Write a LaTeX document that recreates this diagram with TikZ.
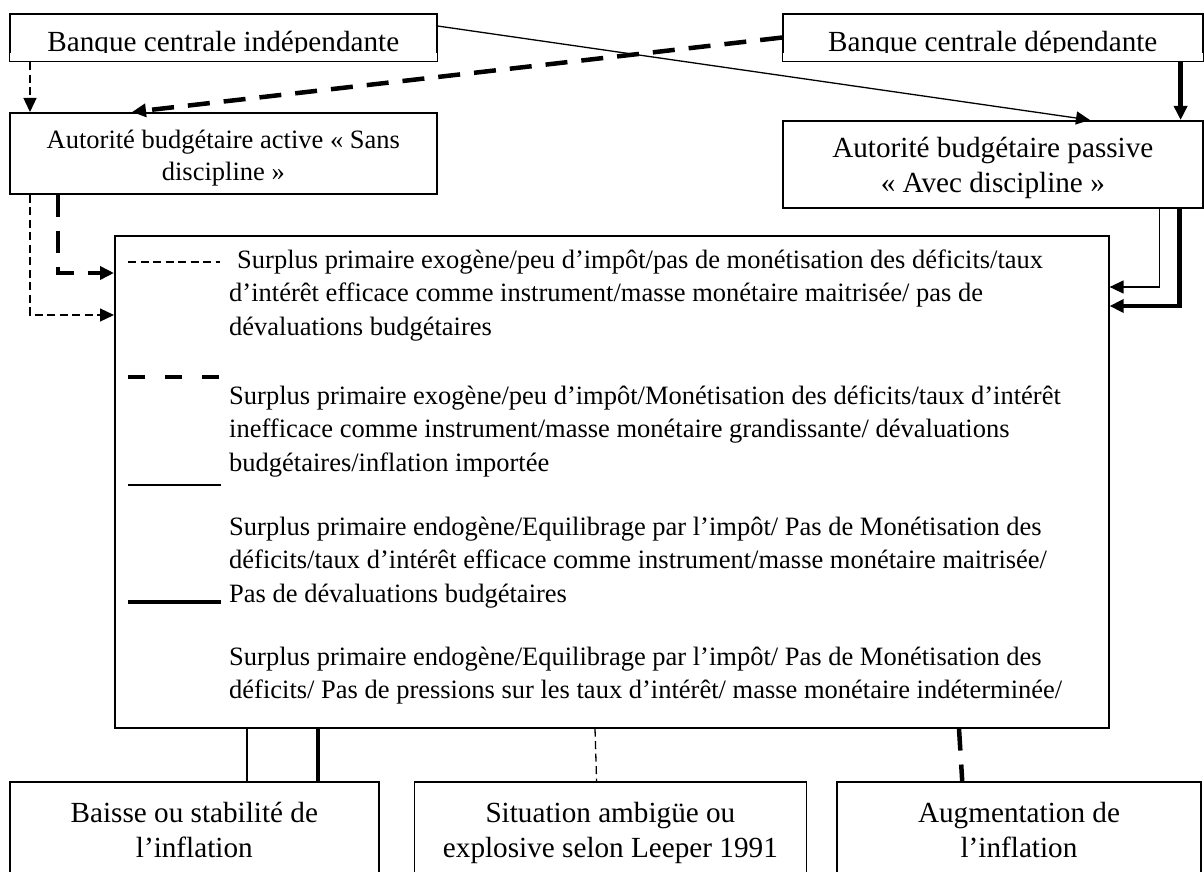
\documentclass[tikz,border=0pt]{standalone}
\usepackage{fontspec}
\setmainfont{Liberation Serif}
\usetikzlibrary{positioning, arrows.meta}

\begin{document}
\begin{tikzpicture}[x=1pt, y=-1pt,
                    every node/.style = {inner sep=0pt, text=black},
                    bloc/.style = {draw, line width=1.6pt, align=center, anchor=north west,
                                   font=\fontsize{29.2}{35}\selectfont},
                    para/.style = {anchor=base west, align=left,
                                   font=\fontsize{26.5}{33.5}\selectfont},
                    fil/.style = {line width=1.3pt},
                    gros/.style = {line width=4.5pt},
                    pointille/.style = {line width=1.3pt, dash pattern=on 8pt off 4.5pt},
                    tirets/.style = {line width=4.5pt, dash pattern=on 22pt off 14pt},
                    fleche/.style = {-{Triangle[length=14pt, width=13pt]}}]
    \useasboundingbox (0,0) rectangle (1204,872);
    \clip (0,0) rectangle (1204,872);
    \node (bci) [bloc, minimum width=427pt, text height=37.5pt, text depth=10pt] at (9,13) {Banque centrale indépendante};
    \node (bcd) [bloc, minimum width=420pt, text height=37.5pt, text depth=10pt] at (782,13) {Banque centrale dépendante};
    \fill[white] ([xshift=1pt, yshift=1pt]bci.south west) rectangle ([xshift=-1pt, yshift=9pt]bci.south east);
    \fill[white] ([xshift=1pt, yshift=1pt]bcd.south west) rectangle ([xshift=-1pt, yshift=9pt]bcd.south east);
    \node (aba) [bloc, minimum width=427pt, text height=68pt, text depth=13pt,
                 font=\fontsize{26.5}{32}\selectfont] at (9,112) {Autorité budgétaire active « Sans\\discipline »};
    \node (abp) [bloc, minimum width=420pt, text height=72pt, text depth=15pt] at (782,120) {Autorité budgétaire passive\\« Avec discipline »};
    \node (bb) [draw, line width=1.6pt, minimum width=994pt, minimum height=492pt, anchor=north west] at (114,235) {};
    \node (p1) [para] at (229,335) {\hspace*{8pt}Surplus primaire exogène/peu d’impôt/pas de monétisation des déficits/taux\\d’intérêt efficace comme instrument/masse monétaire maitrisée/ pas de\\dévaluations budgétaires};
    \node (p2) [para] at (229,471) {Surplus primaire exogène/peu d’impôt/Monétisation des déficits/taux d’intérêt\\inefficace comme instrument/masse monétaire grandissante/ dévaluations\\budgétaires/inflation importée};
    \node (p3) [para] at (229,602) {Surplus primaire endogène/Equilibrage par l’impôt/ Pas de Monétisation des\\déficits/taux d’intérêt efficace comme instrument/masse monétaire maitrisée/\\Pas de dévaluations budgétaires};
    \node (p4) [para] at (229,698.5) {Surplus primaire endogène/Equilibrage par l’impôt/ Pas de Monétisation des\\déficits/ Pas de pressions sur les taux d’intérêt/ masse monétaire indéterminée/};
    \node (out1) [bloc, minimum width=369pt, text height=76pt, text depth=43pt] at (9,781) {Baisse ou stabilité de\\l’inflation};
    \node (out2) [bloc, minimum width=392pt, text height=76pt, text depth=43pt, right=34pt of out1] {Situation ambigüe ou\\explosive selon Leeper 1991};
    \node (out3) [bloc, minimum width=364pt, text height=76pt, text depth=43pt, right=29pt of out2] {Augmentation de\\l’inflation};
    \draw[pointille] (128,262) -- (220,262);
    \draw[gros, dash pattern=on 17pt off 20pt] (128,377) -- (220,377);
    \draw[fil] (128,485) -- (221,485);
    \draw[gros] (128,602) -- (221,602);
    \draw[pointille, fleche] ([xshift=21pt]bci.south west) -- ([xshift=21pt]aba.north west);
    \draw[tirets, fleche] (bcd.west) -- ([xshift=123pt]aba.north west);
    \draw[fil, fleche] ([yshift=-13pt]bci.north east) -- ([xshift=308pt]abp.north west);
    \draw[gros, fleche] ([xshift=-23pt]bcd.south east) -- ([xshift=-23pt]abp.north east);
    \draw[pointille, fleche] ([xshift=21pt]aba.south west) |- ([yshift=-80pt]bb.north west);
    \draw[tirets, fleche] ([xshift=49pt]aba.south west) |- ([yshift=-38pt]bb.north west);
    \draw[fil, fleche] ([xshift=-44pt]abp.south east) |- ([yshift=-52pt]bb.north east);
    \draw[gros, fleche] ([xshift=-24pt]abp.south east) |- ([yshift=-71pt]bb.north east);
    \draw[fil] ([xshift=133pt]bb.south west) -- ([xshift=238pt]out1.north west);
    \draw[gros] ([xshift=204pt]bb.south west) -- ([xshift=309pt]out1.north west);
    \draw[pointille] ([xshift=481pt]bb.south west) -- ([xshift=183pt]out2.north west);
    \draw[tirets] ([xshift=845pt]bb.south west) -- ([xshift=126pt]out3.north west);
\end{tikzpicture}
\end{document}
